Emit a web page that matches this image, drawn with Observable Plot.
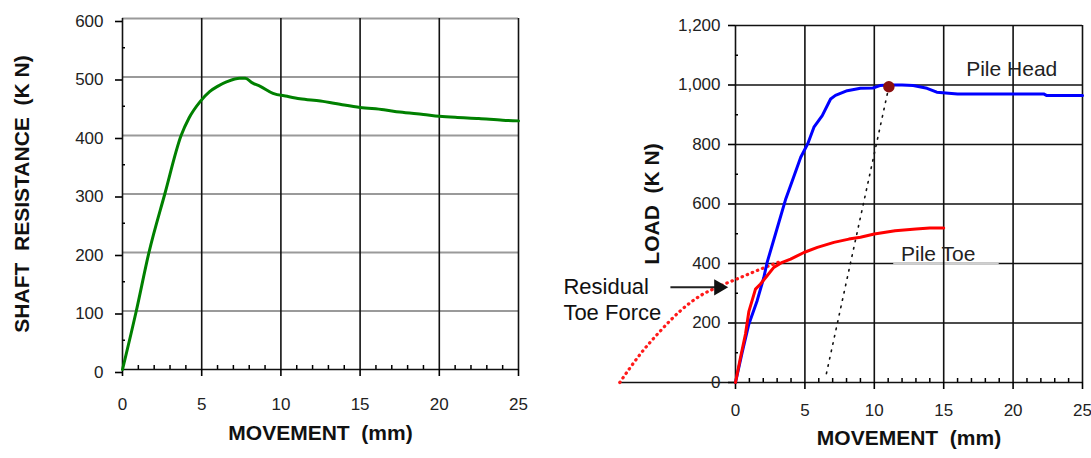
<!DOCTYPE html>
<html><head><meta charset="utf-8">
<script src="https://cdn.jsdelivr.net/npm/d3@7"></script>
<script src="https://cdn.jsdelivr.net/npm/@observablehq/plot@0.6"></script>
<style>
body{margin:0;background:#fff;}
#wrap{position:relative;width:1091px;height:458px;overflow:hidden;}
#wrap svg{position:absolute;top:0;overflow:visible;}
</style></head><body><div id="wrap"></div>
<script>
// ---- data ----
const shaftMovement = [0, 0.87, 1.67, 2.67, 3.7, 4.2, 4.9, 5.5, 6.0, 6.6, 7.4, 7.75, 8.2, 8.7, 9.5, 10.4, 11.2, 12.5, 14, 15, 16.5, 17.5, 19, 20, 21, 22.5, 24, 25];
const shaftResistance = [0, 100, 200, 300, 400, 430, 458, 475, 484, 492, 498, 498, 490, 484, 472, 467, 463, 459, 452, 448, 444, 440, 436, 433, 431, 429, 426, 425];

const headMovement = [0, 0.48, 0.96, 1.56, 2.04, 2.28, 2.88, 3.6, 4.1, 4.7, 5.2, 5.65, 6.25, 6.85, 7.2, 8.05, 9.0, 9.9, 10.4, 11.0, 12.0, 12.8, 13.8, 14.5, 16.0, 22.2, 22.4, 25];
const headLoad = [0, 101, 196, 275, 353, 404, 499, 614, 679, 757, 802, 858, 897, 953, 965, 981, 989, 990, 998, 1000, 1000, 998, 989, 976, 970, 970, 965, 965];

const toeMovement = [0, 0.36, 0.72, 0.96, 1.44, 1.8, 2.28, 2.76, 3.37, 3.97, 4.93, 5.9, 7.09, 8.17, 9.0, 10.0, 11.5, 13.0, 14.0, 15.0];
const toeLoad = [0, 84, 163, 238, 314, 331, 359, 387, 404, 415, 437, 454, 471, 482, 488, 499, 510, 516, 519, 519];

const residualMovement = [-8.34, -6.85, -5.4, -3.97, -2.52, -1.08, 0.36, 1.8, 3.37];
const residualLoad = [0, 96, 174, 241, 292, 325, 353, 381, 409];

const offsetMovement = [6.55, 11.05];
const offsetLoad = [30, 994];
const failureMovement = [11.05];
const failureLoad = [994];

const xTicks = [0, 5, 10, 15, 20, 25];
const shaftTicks = [0, 100, 200, 300, 400, 500, 600];
const loadTicks = [0, 200, 400, 600, 800, 1000, 1200];
const xMinor = d3.range(1, 25).filter(d => d % 5 !== 0);
const shaftMinor = [50, 150, 250, 350, 450, 550];
const loadMinor = [100, 300, 500, 700, 900, 1100];

const labels = [
  {x: 19.9, y: 1054, text: "Pile Head"},
  {x: 14.6, y: 432, text: "Pile Toe"}
];
const residualLabels = [
  {x: -12.4, y: 321, text: "Residual"},
  {x: -12.4, y: 234, text: "Toe Force"}
];
const residualArrow = [{x1: -4.69, x2: -0.84, y: 320}];
const toeLabelUnderline = [{x1: 11.4, x2: 19.0, y: 400}];

const FONT = '"Liberation Sans", Arial, sans-serif';
const rows = (xs, ys) => xs.map((x, i) => ({x, y: ys[i]}));

// ---- left panel ----
const left = Plot.plot({
  width: 545, height: 458,
  marginLeft: 122, marginRight: 27, marginTop: 18, marginBottom: 89,
  style: {fontFamily: FONT, fontSize: "17px", color: "black", background: "white"},
  x: {domain: [0, 25], axis: null},
  y: {domain: [0, 600], axis: null},
  marks: [
    Plot.ruleY(shaftTicks.slice(1), {stroke: "#9a9a9a", strokeWidth: 2}),
    Plot.ruleX(xTicks.slice(1), {stroke: "#111", strokeWidth: 1.6}),
    Plot.ruleY([0], {stroke: "#111", strokeWidth: 1.6}),
    Plot.ruleX([0], {stroke: "#111", strokeWidth: 1.6}),
    Plot.axisX(xTicks, {tickSize: 7, tickPadding: 21, label: null, fill: "#222", strokeWidth: 1.6}),
    Plot.axisX(xMinor, {tickSize: -4, tickFormat: () => "", label: null, strokeWidth: 1.5}),
    Plot.axisY(shaftTicks, {tickSize: 7, tickPadding: 12, label: null, fill: "#222", dy: 3, strokeWidth: 1.6}),
    Plot.axisY(shaftMinor, {tickSize: -3, tickFormat: () => "", label: null, strokeWidth: 1.5}),
    Plot.line(rows(shaftMovement, shaftResistance), {x: "x", y: "y", stroke: "#008000", strokeWidth: 3, curve: "monotone-x"}),
    Plot.text(["SHAFT\u00a0\u00a0RESISTANCE\u00a0\u00a0(K\u00a0N)"], {frameAnchor: "left", textAnchor: "middle", dx: -100, rotate: -90, fontSize: 21, fontWeight: "bold", fill: "#111"}),
    Plot.text(["MOVEMENT\u00a0\u00a0(mm)"], {frameAnchor: "bottom", dy: 70, fontSize: 21, fontWeight: "bold", fill: "#111"})
  ]
});
left.style.left = "0px";

// ---- right panel ----
const right = Plot.plot({
  width: 546, height: 458,
  marginLeft: 190, marginRight: 9, marginTop: 25, marginBottom: 76,
  style: {fontFamily: FONT, fontSize: "17px", color: "black", background: "transparent"},
  x: {domain: [0, 25], axis: null},
  y: {domain: [0, 1200], axis: null},
  marks: [
    Plot.ruleY(loadTicks.slice(1), {stroke: "#111", strokeWidth: 1.6}),
    Plot.ruleY(toeLabelUnderline, {y: "y", x1: "x1", x2: "x2", stroke: "#cfcfcf", strokeWidth: 2}),
    Plot.ruleX(xTicks.slice(1), {stroke: "#111", strokeWidth: 1.6}),
    Plot.ruleY([0], {x1: d3.min(residualMovement), x2: d3.max(xTicks), stroke: "#111", strokeWidth: 1.6}),
    Plot.ruleX([0], {stroke: "#111", strokeWidth: 1.6}),
    Plot.axisX(xTicks, {tickSize: 7, tickPadding: 14, label: null, fill: "#222", strokeWidth: 1.6}),
    Plot.axisX(xMinor, {tickSize: -4, tickFormat: () => "", label: null, strokeWidth: 1.5}),
    Plot.axisY(loadTicks, {tickSize: 7, tickPadding: 8, label: null, fill: "#222", tickFormat: d3.format(","), strokeWidth: 1.6}),
    Plot.axisY(loadMinor, {tickSize: -3, tickFormat: () => "", label: null, strokeWidth: 1.5}),
    Plot.line(rows(offsetMovement, offsetLoad), {x: "x", y: "y", stroke: "#111", strokeWidth: 1.6, strokeDasharray: "1.5,6"}),
    Plot.line(rows(residualMovement, residualLoad), {x: "x", y: "y", stroke: "#ff1a1a", strokeWidth: 3.2, strokeDasharray: "0.5,5", strokeLinecap: "round", curve: "monotone-x"}),
    Plot.line(rows(headMovement, headLoad), {x: "x", y: "y", stroke: "#0000ff", strokeWidth: 3}),
    Plot.line(rows(toeMovement, toeLoad), {x: "x", y: "y", stroke: "#ff0000", strokeWidth: 3}),
    Plot.dot(rows(failureMovement, failureLoad), {x: "x", y: "y", r: 5, fill: "#8b1010", stroke: "#8b1010"}),
    Plot.text(labels, {x: "x", y: "y", text: "text", fontSize: 21, fill: "#222"}),
    Plot.text(residualLabels, {x: "x", y: "y", text: "text", fontSize: 22, textAnchor: "start", fill: "#111"}),
    Plot.link(residualArrow, {x1: "x1", x2: "x2", y1: "y", y2: "y", stroke: "#222", strokeWidth: 2}),
    Plot.dot(residualArrow, {x: "x2", y: "y", symbol: "triangle", r: 6, rotate: 90, fill: "#111", stroke: null, dx: -5}),
    Plot.text(["LOAD\u00a0\u00a0(K\u00a0N)"], {frameAnchor: "left", textAnchor: "middle", dx: -83, rotate: -90, fontSize: 21, fontWeight: "bold", fill: "#111"}),
    Plot.text(["MOVEMENT\u00a0\u00a0(mm)"], {frameAnchor: "bottom", dy: 62, fontSize: 21, fontWeight: "bold", fill: "#111"})
  ]
});
right.style.left = "545px";

document.getElementById("wrap").append(left, right);
</script></body></html>
